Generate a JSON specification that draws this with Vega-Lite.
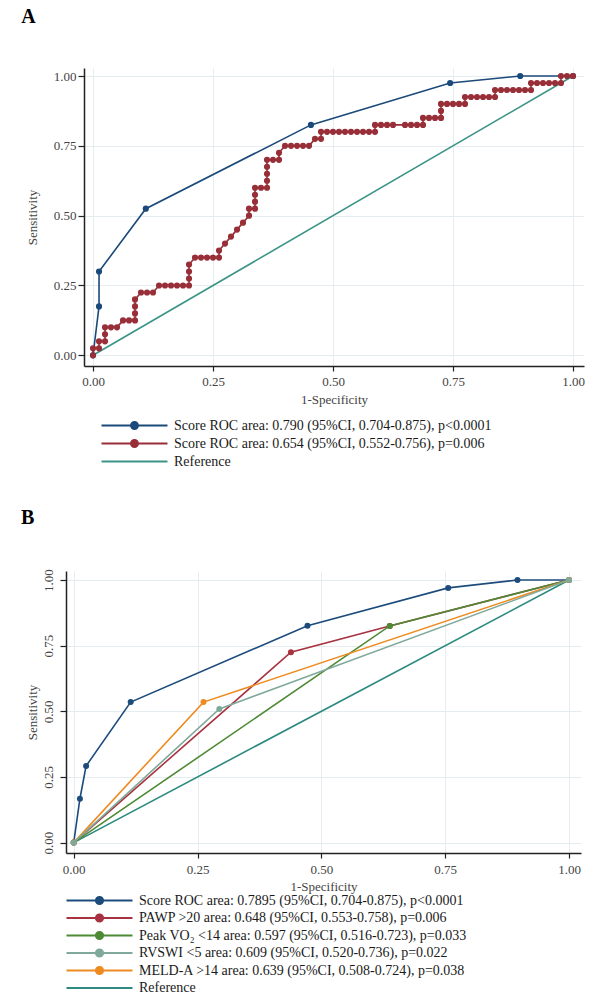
{
  "$schema": "https://vega.github.io/schema/vega-lite/v6.json",
  "background": "white",
  "padding": {"left": 20, "top": 7, "right": 0, "bottom": 0},
  "spacing": 38,
  "resolve": {"scale": {"color": "independent", "x": "independent", "y": "independent"}, "legend": {"color": "independent"}},
  "datasets": {
    "namesA": [
      {"s": "a1", "series": "Score ROC area: 0.790 (95%CI, 0.704-0.875), p<0.0001"},
      {"s": "a2", "series": "Score ROC area: 0.654 (95%CI, 0.552-0.756), p=0.006"},
      {"s": "ref", "series": "Reference"}
    ],
    "namesB": [
      {"s": "b1", "series": "Score ROC area: 0.7895 (95%CI, 0.704-0.875), p<0.0001"},
      {"s": "b2", "series": "PAWP >20 area: 0.648 (95%CI, 0.553-0.758), p=0.006"},
      {"s": "b3", "series": "Peak VO₂ <14 area: 0.597 (95%CI, 0.516-0.723), p=0.033"},
      {"s": "b4", "series": "RVSWI <5 area: 0.609 (95%CI, 0.520-0.736), p=0.022"},
      {"s": "b5", "series": "MELD-A >14 area: 0.639 (95%CI, 0.508-0.724), p=0.038"},
      {"s": "ref", "series": "Reference"}
    ],
    "rocA": [
      {"s": "ref", "x": 0, "y": 0}, {"s": "ref", "x": 1, "y": 1},
      {"s": "a1", "x": 0, "y": 0}, {"s": "a1", "x": 0.0125, "y": 0.175}, {"s": "a1", "x": 0.0125, "y": 0.3}, {"s": "a1", "x": 0.11, "y": 0.525}, {"s": "a1", "x": 0.454, "y": 0.825}, {"s": "a1", "x": 0.744, "y": 0.975}, {"s": "a1", "x": 0.89, "y": 1}, {"s": "a1", "x": 1, "y": 1},
      {"s": "a2", "x": 0, "y": 0}, {"s": "a2", "x": 0, "y": 0.025}, {"s": "a2", "x": 0.0125, "y": 0.025}, {"s": "a2", "x": 0.0125, "y": 0.05}, {"s": "a2", "x": 0.025, "y": 0.05}, {"s": "a2", "x": 0.025, "y": 0.075}, {"s": "a2", "x": 0.025, "y": 0.1}, {"s": "a2", "x": 0.0375, "y": 0.1}, {"s": "a2", "x": 0.05, "y": 0.1},
      {"s": "a2", "x": 0.0625, "y": 0.125}, {"s": "a2", "x": 0.075, "y": 0.125}, {"s": "a2", "x": 0.0875, "y": 0.125}, {"s": "a2", "x": 0.0875, "y": 0.15}, {"s": "a2", "x": 0.0875, "y": 0.175}, {"s": "a2", "x": 0.0875, "y": 0.2},
      {"s": "a2", "x": 0.1, "y": 0.225}, {"s": "a2", "x": 0.1125, "y": 0.225}, {"s": "a2", "x": 0.125, "y": 0.225},
      {"s": "a2", "x": 0.1375, "y": 0.25}, {"s": "a2", "x": 0.15, "y": 0.25}, {"s": "a2", "x": 0.1625, "y": 0.25}, {"s": "a2", "x": 0.175, "y": 0.25}, {"s": "a2", "x": 0.1875, "y": 0.25}, {"s": "a2", "x": 0.2, "y": 0.25},
      {"s": "a2", "x": 0.2, "y": 0.275}, {"s": "a2", "x": 0.2, "y": 0.3}, {"s": "a2", "x": 0.2, "y": 0.325},
      {"s": "a2", "x": 0.2125, "y": 0.35}, {"s": "a2", "x": 0.225, "y": 0.35}, {"s": "a2", "x": 0.2375, "y": 0.35}, {"s": "a2", "x": 0.25, "y": 0.35}, {"s": "a2", "x": 0.2625, "y": 0.35},
      {"s": "a2", "x": 0.2625, "y": 0.375}, {"s": "a2", "x": 0.275, "y": 0.4}, {"s": "a2", "x": 0.2875, "y": 0.425}, {"s": "a2", "x": 0.3, "y": 0.45}, {"s": "a2", "x": 0.3125, "y": 0.475}, {"s": "a2", "x": 0.325, "y": 0.5}, {"s": "a2", "x": 0.325, "y": 0.525},
      {"s": "a2", "x": 0.3375, "y": 0.525}, {"s": "a2", "x": 0.3375, "y": 0.55}, {"s": "a2", "x": 0.3375, "y": 0.575}, {"s": "a2", "x": 0.3375, "y": 0.6}, {"s": "a2", "x": 0.35, "y": 0.6}, {"s": "a2", "x": 0.3625, "y": 0.6},
      {"s": "a2", "x": 0.3625, "y": 0.625}, {"s": "a2", "x": 0.3625, "y": 0.65}, {"s": "a2", "x": 0.3625, "y": 0.675}, {"s": "a2", "x": 0.3625, "y": 0.7}, {"s": "a2", "x": 0.375, "y": 0.7}, {"s": "a2", "x": 0.3875, "y": 0.7}, {"s": "a2", "x": 0.3875, "y": 0.725},
      {"s": "a2", "x": 0.4, "y": 0.75}, {"s": "a2", "x": 0.4125, "y": 0.75}, {"s": "a2", "x": 0.425, "y": 0.75}, {"s": "a2", "x": 0.4375, "y": 0.75}, {"s": "a2", "x": 0.45, "y": 0.75},
      {"s": "a2", "x": 0.4625, "y": 0.775}, {"s": "a2", "x": 0.475, "y": 0.775}, {"s": "a2", "x": 0.475, "y": 0.8},
      {"s": "a2", "x": 0.4875, "y": 0.8}, {"s": "a2", "x": 0.5, "y": 0.8}, {"s": "a2", "x": 0.5125, "y": 0.8}, {"s": "a2", "x": 0.525, "y": 0.8}, {"s": "a2", "x": 0.5375, "y": 0.8}, {"s": "a2", "x": 0.55, "y": 0.8}, {"s": "a2", "x": 0.5625, "y": 0.8}, {"s": "a2", "x": 0.575, "y": 0.8}, {"s": "a2", "x": 0.5875, "y": 0.8},
      {"s": "a2", "x": 0.5875, "y": 0.825}, {"s": "a2", "x": 0.6, "y": 0.825}, {"s": "a2", "x": 0.6125, "y": 0.825}, {"s": "a2", "x": 0.625, "y": 0.825},
      {"s": "a2", "x": 0.65, "y": 0.825}, {"s": "a2", "x": 0.6625, "y": 0.825}, {"s": "a2", "x": 0.675, "y": 0.825}, {"s": "a2", "x": 0.6875, "y": 0.825},
      {"s": "a2", "x": 0.6875, "y": 0.85}, {"s": "a2", "x": 0.7, "y": 0.85}, {"s": "a2", "x": 0.7125, "y": 0.85}, {"s": "a2", "x": 0.725, "y": 0.85},
      {"s": "a2", "x": 0.725, "y": 0.875}, {"s": "a2", "x": 0.725, "y": 0.9}, {"s": "a2", "x": 0.7375, "y": 0.9}, {"s": "a2", "x": 0.75, "y": 0.9}, {"s": "a2", "x": 0.7625, "y": 0.9}, {"s": "a2", "x": 0.775, "y": 0.9},
      {"s": "a2", "x": 0.775, "y": 0.925}, {"s": "a2", "x": 0.7875, "y": 0.925}, {"s": "a2", "x": 0.8, "y": 0.925}, {"s": "a2", "x": 0.8125, "y": 0.925}, {"s": "a2", "x": 0.825, "y": 0.925}, {"s": "a2", "x": 0.8375, "y": 0.925},
      {"s": "a2", "x": 0.8375, "y": 0.95}, {"s": "a2", "x": 0.85, "y": 0.95}, {"s": "a2", "x": 0.8625, "y": 0.95}, {"s": "a2", "x": 0.875, "y": 0.95}, {"s": "a2", "x": 0.8875, "y": 0.95}, {"s": "a2", "x": 0.9, "y": 0.95}, {"s": "a2", "x": 0.9125, "y": 0.95},
      {"s": "a2", "x": 0.9125, "y": 0.975}, {"s": "a2", "x": 0.925, "y": 0.975}, {"s": "a2", "x": 0.9375, "y": 0.975}, {"s": "a2", "x": 0.95, "y": 0.975}, {"s": "a2", "x": 0.9625, "y": 0.975}, {"s": "a2", "x": 0.975, "y": 0.975},
      {"s": "a2", "x": 0.975, "y": 1}, {"s": "a2", "x": 0.9875, "y": 1}, {"s": "a2", "x": 1, "y": 1}
    ],
    "rocB": [
      {"s": "ref", "x": 0, "y": 0}, {"s": "ref", "x": 1, "y": 1},
      {"s": "b1", "x": 0, "y": 0}, {"s": "b1", "x": 0.0125, "y": 0.167}, {"s": "b1", "x": 0.025, "y": 0.292}, {"s": "b1", "x": 0.115, "y": 0.535}, {"s": "b1", "x": 0.472, "y": 0.826}, {"s": "b1", "x": 0.756, "y": 0.97}, {"s": "b1", "x": 0.896, "y": 1}, {"s": "b1", "x": 1, "y": 1},
      {"s": "b2", "x": 0, "y": 0}, {"s": "b2", "x": 0.4385, "y": 0.725}, {"s": "b2", "x": 0.638, "y": 0.825}, {"s": "b2", "x": 1, "y": 1},
      {"s": "b3", "x": 0, "y": 0}, {"s": "b3", "x": 0.638, "y": 0.825}, {"s": "b3", "x": 1, "y": 1},
      {"s": "b5", "x": 0, "y": 0}, {"s": "b5", "x": 0.262, "y": 0.535}, {"s": "b5", "x": 1, "y": 1},
      {"s": "b4", "x": 0, "y": 0}, {"s": "b4", "x": 0.294, "y": 0.509}, {"s": "b4", "x": 1, "y": 1}
    ]
  },
  "vconcat": [
    {
      "spacing": 0,
      "resolve": {"scale": {"color": "independent", "x": "independent", "y": "independent"}, "legend": {"color": "independent"}},
      "hconcat": [
        {"width": 1, "height": 1, "data": {"values": []}, "mark": "point"},
        {
          "width": 500,
          "height": 298,
          "title": {"text": "A", "anchor": "start", "frame": "bounds", "dx": -5, "offset": 41, "font": "Liberation Serif", "fontSize": 20, "fontWeight": "bold", "color": "#000"},
          "data": {"name": "rocA"},
          "transform": [{"lookup": "s", "from": {"data": {"name": "namesA"}, "key": "s", "fields": ["series"]}}],
          "encoding": {
            "x": {"field": "x", "type": "quantitative", "scale": {"domain": [-0.0188, 1.0229], "nice": false, "zero": false},
                  "axis": {"title": "1-Specificity", "values": [0, 0.25, 0.5, 0.75, 1], "labelPadding": 4, "titlePadding": 5}},
            "y": {"field": "y", "type": "quantitative", "scale": {"domain": [-0.0383, 1.0287], "nice": false, "zero": false},
                  "axis": {"title": "Sensitivity", "values": [0, 0.25, 0.5, 0.75, 1], "tickSize": 6, "labelPadding": 2, "titlePadding": 14}},
            "color": {"field": "series", "type": "nominal",
              "scale": {"domain": ["Score ROC area: 0.790 (95%CI, 0.704-0.875), p<0.0001", "Score ROC area: 0.654 (95%CI, 0.552-0.756), p=0.006", "Reference"],
                        "range": ["#1b4a7a", "#982f38", "#3b9486"]},
              "legend": {"title": null, "orient": "none", "legendX": 17, "legendY": 349, "padding": 0,
                "labelFont": "Liberation Serif", "labelFontSize": 14, "labelColor": "#1a1a1a", "labelLimit": 600, "labelOffset": 31, "rowPadding": 1,
                "symbolSize": 196, "symbolOffset": 25, "symbolStrokeWidth": 2.2, "symbolType": "M-4.714,0H4.714",
                "encode": {"symbols": {"update": {
                  "shape": {"signal": "datum.value === 'Reference' ? 'M-4.714,0H4.714' : 'M-4.714,0H4.714M-0.48,0A0.48,0.48,0,1,1,0.48,0A0.48,0.48,0,1,1,-0.48,0Z'"},
                  "size": {"value": 196},
                  "stroke": {"scale": "color", "field": "value"},
                  "fill": {"scale": "color", "field": "value"},
                  "strokeWidth": {"value": 2.2},
                  "opacity": {"value": 1}}}}}
            }
          },
          "layer": [
            {"mark": {"type": "line", "strokeWidth": 1.6}},
            {"transform": [{"filter": "datum.s !== 'ref'"}], "mark": {"type": "circle", "size": 38, "opacity": 1}}
          ]
        }
      ]
    },
    {
      "spacing": 0,
      "resolve": {"scale": {"color": "independent", "x": "independent", "y": "independent"}, "legend": {"color": "independent"}},
      "hconcat": [
        {"width": 1, "height": 1, "data": {"values": []}, "mark": "point"},
        {
          "width": 515,
          "height": 282,
          "title": {"text": "B", "anchor": "start", "frame": "bounds", "dx": -5, "offset": 41, "font": "Liberation Serif", "fontSize": 20, "fontWeight": "bold", "color": "#000"},
          "data": {"name": "rocB"},
          "transform": [{"lookup": "s", "from": {"data": {"name": "namesB"}, "key": "s", "fields": ["series"]}}],
          "encoding": {
            "x": {"field": "x", "type": "quantitative", "scale": {"domain": [-0.0156, 1.0242], "nice": false, "zero": false},
                  "axis": {"title": "1-Specificity", "values": [0, 0.25, 0.5, 0.75, 1], "labelPadding": 5, "titlePadding": 4}},
            "y": {"field": "y", "type": "quantitative", "scale": {"domain": [-0.0396, 1.0343], "nice": false, "zero": false},
                  "axis": {"title": "Sensitivity", "values": [0, 0.25, 0.5, 0.75, 1], "tickSize": 6, "labelAngle": 270, "labelAlign": "center", "labelBaseline": "bottom", "labelPadding": 5, "titlePadding": 3}},
            "color": {"field": "series", "type": "nominal",
              "scale": {"domain": ["Score ROC area: 0.7895 (95%CI, 0.704-0.875), p<0.0001", "PAWP >20 area: 0.648 (95%CI, 0.553-0.758), p=0.006", "Peak VO₂ <14 area: 0.597 (95%CI, 0.516-0.723), p=0.033", "RVSWI <5 area: 0.609 (95%CI, 0.520-0.736), p=0.022", "MELD-A >14 area: 0.639 (95%CI, 0.508-0.724), p=0.038", "Reference"],
                        "range": ["#1d4c7c", "#a8323f", "#4f8a35", "#7fa99b", "#ee8a20", "#2d8a80"]},
              "legend": {"title": null, "orient": "none", "legendX": 0, "legendY": 321, "padding": 0,
                "labelFont": "Liberation Serif", "labelFontSize": 14, "labelColor": "#1a1a1a", "labelLimit": 600, "labelOffset": 31, "rowPadding": 0.5,
                "symbolSize": 196, "symbolOffset": 25, "symbolStrokeWidth": 2.2, "symbolType": "M-4.714,0H4.714",
                "encode": {"symbols": {"update": {
                  "shape": {"signal": "datum.value === 'Reference' ? 'M-4.714,0H4.714' : 'M-4.714,0H4.714M-0.5,0A0.5,0.5,0,1,1,0.5,0A0.5,0.5,0,1,1,-0.5,0Z'"},
                  "size": {"value": 196},
                  "stroke": {"scale": "color", "field": "value"},
                  "fill": {"scale": "color", "field": "value"},
                  "strokeWidth": {"value": 2.2},
                  "opacity": {"value": 1}}}}}
            }
          },
          "layer": [
            {"mark": {"type": "line", "strokeWidth": 1.6}},
            {"transform": [{"filter": "datum.s !== 'ref'"}], "mark": {"type": "circle", "size": 36, "opacity": 1}}
          ]
        }
      ]
    }
  ],
  "config": {
    "view": {"stroke": null},
    "axis": {
      "labelFont": "Liberation Serif", "titleFont": "Liberation Serif", "labelFontSize": 13, "titleFontSize": 13, "titleFontWeight": "normal",
      "labelColor": "#444", "titleColor": "#444", "domainColor": "#222", "domainWidth": 1.5, "tickColor": "#222", "tickWidth": 1.2, "tickSize": 5,
      "gridColor": "#e6edf1", "gridWidth": 1, "format": ".2f", "labelFlush": false, "labelOverlap": false
    }
  }
}
